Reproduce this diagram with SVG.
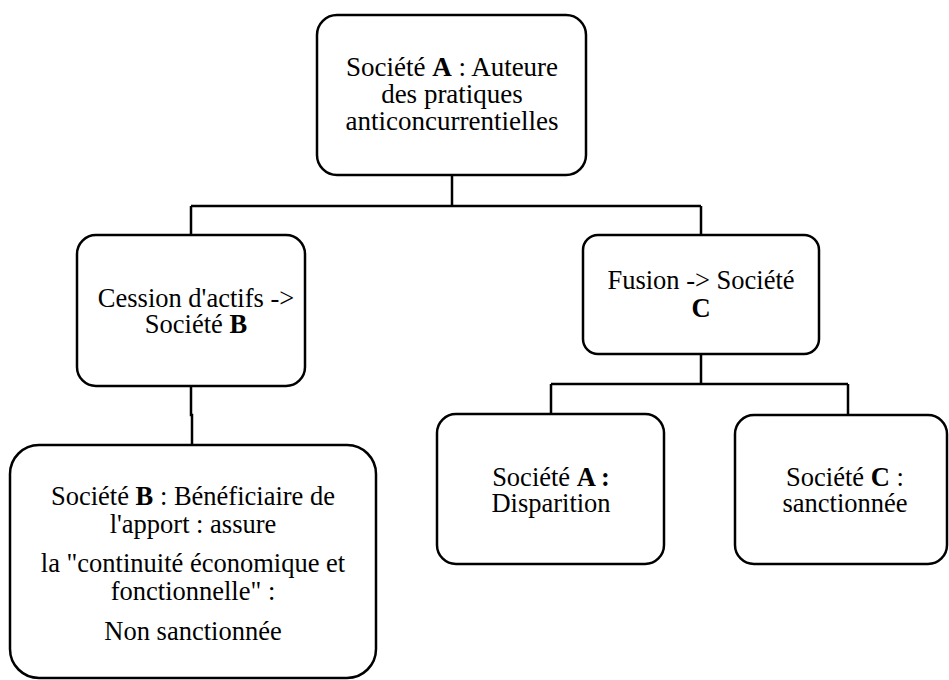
<svg xmlns="http://www.w3.org/2000/svg" width="949" height="680" viewBox="0 0 949 680">
<style>
  .box { fill: #ffffff; stroke: #000000; stroke-width: 2.5; }
  .conn { fill: none; stroke: #000000; stroke-width: 2.5; }
</style>
<rect width="949" height="680" fill="#ffffff"/>
<g id="connectors">
  <path class="conn" d="M452,175 V206 M191,206 H701 M191,206 V235 M701,206 V235"/>
  <path class="conn" d="M191,386 V415 H192 V445"/>
  <path class="conn" d="M701,354 V384 M551,384 H848 M551,384 V414 M848,384 V415"/>
</g>
<g id="node-A">
  <rect class="box" x="317" y="15" width="269" height="160" rx="20"/>
  <text x="452" y="76" text-anchor="middle" style="font-family: 'Liberation Serif'; font-size: 27px">Société <tspan font-weight="bold">A</tspan> : Auteure</text>
  <text x="452" y="103" text-anchor="middle" style="font-family: 'Liberation Serif'; font-size: 27px">des pratiques</text>
  <text x="452" y="130" text-anchor="middle" style="font-family: 'Liberation Serif'; font-size: 27px">anticoncurrentielles</text>
</g>
<g id="node-cession">
  <rect class="box" x="77" y="235" width="228" height="151" rx="19"/>
  <text x="196" y="307" text-anchor="middle" style="font-family: 'Liberation Serif'; font-size: 26.5px">Cession d'actifs -&gt;</text>
  <text x="196" y="333" text-anchor="middle" style="font-family: 'Liberation Serif'; font-size: 26.5px">Société <tspan font-weight="bold">B</tspan></text>
</g>
<g id="node-B">
  <rect class="box" x="10" y="445" width="366" height="233" rx="29"/>
  <text x="193" y="505" text-anchor="middle" style="font-family: 'Liberation Serif'; font-size: 26.5px">Société <tspan font-weight="bold">B</tspan> : Bénéficiaire de</text>
  <text x="193" y="533" text-anchor="middle" style="font-family: 'Liberation Serif'; font-size: 26.5px">l'apport : assure</text>
  <text x="193" y="572" text-anchor="middle" style="font-family: 'Liberation Serif'; font-size: 26.5px">la "continuité économique et</text>
  <text x="193" y="600" text-anchor="middle" style="font-family: 'Liberation Serif'; font-size: 26.5px">fonctionnelle" :</text>
  <text x="193" y="640" text-anchor="middle" style="font-family: 'Liberation Serif'; font-size: 26.5px">Non sanctionnée</text>
</g>
<g id="node-fusion">
  <rect class="box" x="583" y="235" width="236" height="119" rx="15"/>
  <text x="701" y="289" text-anchor="middle" style="font-family: 'Liberation Serif'; font-size: 26.5px">Fusion -&gt; Société</text>
  <text x="701" y="317" text-anchor="middle" font-weight="bold" style="font-family: 'Liberation Serif'; font-size: 26.5px">C</text>
</g>
<g id="node-A-disp">
  <rect class="box" x="437" y="414" width="227" height="150" rx="19"/>
  <text x="551" y="486" text-anchor="middle" style="font-family: 'Liberation Serif'; font-size: 26.5px">Société <tspan font-weight="bold">A :</tspan></text>
  <text x="551" y="512" text-anchor="middle" style="font-family: 'Liberation Serif'; font-size: 26.5px">Disparition</text>
</g>
<g id="node-C">
  <rect class="box" x="735" y="415" width="212" height="149" rx="19"/>
  <text x="845" y="486" text-anchor="middle" style="font-family: 'Liberation Serif'; font-size: 26.5px">Société <tspan font-weight="bold">C</tspan> :</text>
  <text x="845" y="512" text-anchor="middle" style="font-family: 'Liberation Serif'; font-size: 26.5px">sanctionnée</text>
</g>
</svg>
